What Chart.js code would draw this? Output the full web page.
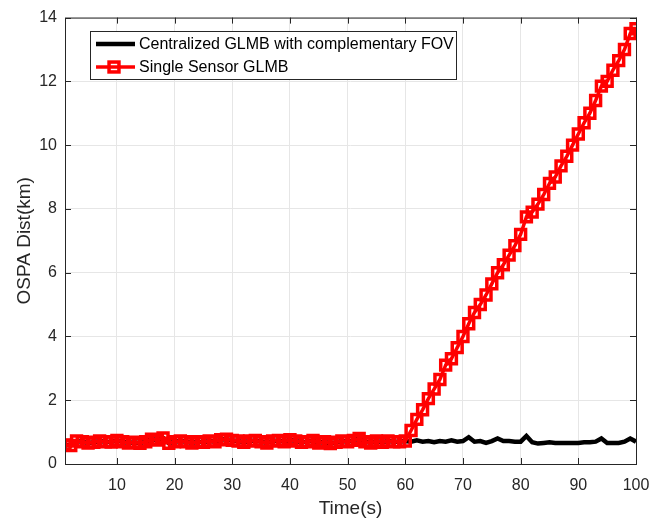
<!DOCTYPE html>
<html>
<head>
<meta charset="utf-8">
<script src="https://cdn.jsdelivr.net/npm/chart.js@4.4.0/dist/chart.umd.min.js"></script>
<style>
  html, body { margin: 0; padding: 0; background: #fff; }
  #wrap { width: 667px; height: 521px; }
</style>
</head>
<body>
<div id="wrap"><canvas id="c" width="667" height="521"></canvas></div>
<script>
// time steps 1..100
const times = [];
for (let t = 1; t <= 100; t++) times.push(t);

// single sensor GLMB (red)
const singleSensor = [
  0.60, 0.58, 0.72, 0.70, 0.66, 0.68, 0.72, 0.70, 0.69, 0.74,
  0.70, 0.66, 0.68, 0.65, 0.70, 0.78, 0.75, 0.82, 0.65, 0.70,
  0.72, 0.70, 0.66, 0.70, 0.68, 0.72, 0.70, 0.76, 0.78, 0.74,
  0.72, 0.68, 0.72, 0.74, 0.70, 0.66, 0.72, 0.74, 0.70, 0.76,
  0.72, 0.68, 0.70, 0.74, 0.66, 0.70, 0.64, 0.68, 0.72, 0.70,
  0.74, 0.80, 0.70, 0.66, 0.72, 0.68, 0.72, 0.70, 0.70, 0.72,
  1.05, 1.40, 1.70, 2.05, 2.35, 2.65, 3.10, 3.30, 3.65, 4.00,
  4.40, 4.75, 5.00, 5.30, 5.65, 6.00, 6.25, 6.55, 6.85, 7.20,
  7.75, 7.90, 8.15, 8.45, 8.80, 9.00, 9.35, 9.65, 10.00, 10.35,
  10.70, 11.00, 11.40, 11.85, 12.00, 12.35, 12.65, 13.00, 13.50, 13.65
];

// centralized GLMB with complementary FOV (black)
const centralized = [
  0.60, 0.58, 0.72, 0.70, 0.66, 0.68, 0.72, 0.70, 0.69, 0.74,
  0.70, 0.66, 0.68, 0.65, 0.70, 0.78, 0.75, 0.82, 0.65, 0.70,
  0.72, 0.70, 0.66, 0.70, 0.68, 0.72, 0.70, 0.76, 0.78, 0.74,
  0.72, 0.68, 0.72, 0.74, 0.70, 0.66, 0.72, 0.74, 0.70, 0.76,
  0.72, 0.68, 0.70, 0.74, 0.66, 0.70, 0.64, 0.68, 0.72, 0.70,
  0.74, 0.80, 0.70, 0.66, 0.72, 0.68, 0.72, 0.70, 0.70, 0.72,
  0.70, 0.74, 0.70, 0.72, 0.68, 0.72, 0.70, 0.74, 0.70, 0.72,
  0.84, 0.70, 0.72, 0.66, 0.72, 0.80, 0.72, 0.72, 0.70, 0.70,
  0.88, 0.68, 0.64, 0.66, 0.68, 0.66, 0.66, 0.66, 0.66, 0.66,
  0.68, 0.68, 0.70, 0.80, 0.66, 0.66, 0.66, 0.70, 0.80, 0.70
];

const xTicks = [10, 20, 30, 40, 50, 60, 70, 80, 90, 100];
const yTicks = [0, 2, 4, 6, 8, 10, 12, 14];

const FONT = 'Liberation Sans, Arial, sans-serif';
const TXT = '#262626';

// box, inward tick marks and legend in MATLAB style
const matlabBox = {
  id: 'matlabBox',
  afterDatasetsDraw(chart) {
    const { ctx, chartArea: a, scales } = chart;
    ctx.save();
    ctx.strokeStyle = '#262626';
    ctx.lineWidth = 1;
    ctx.strokeRect(a.left + 0.5, a.top + 0.5, a.right - a.left, a.bottom - a.top);
    ctx.beginPath();
    xTicks.forEach(v => {
      const px = Math.round(scales.x.getPixelForValue(v)) + 0.5;
      ctx.moveTo(px, a.bottom); ctx.lineTo(px, a.bottom - 6);
      ctx.moveTo(px, a.top); ctx.lineTo(px, a.top + 6);
    });
    yTicks.forEach(v => {
      const py = Math.round(scales.y.getPixelForValue(v)) + 0.5;
      ctx.moveTo(a.left, py); ctx.lineTo(a.left + 6, py);
      ctx.moveTo(a.right, py); ctx.lineTo(a.right - 6, py);
    });
    ctx.stroke();

    // legend
    const lx = 90, ly = 31, lw = 366, lh = 48;
    ctx.fillStyle = '#fff';
    ctx.fillRect(lx, ly, lw, lh);
    ctx.strokeStyle = '#262626';
    ctx.lineWidth = 1;
    ctx.strokeRect(lx + 0.5, ly + 0.5, lw, lh);
    ctx.font = '16px ' + FONT;
    ctx.textBaseline = 'middle';
    chart.data.datasets.forEach((ds, i) => {
      const yy = ly + 13 + i * 23;
      ctx.strokeStyle = ds.borderColor;
      ctx.lineWidth = ds.borderWidth;
      ctx.beginPath();
      ctx.moveTo(lx + 6, yy); ctx.lineTo(lx + 45, yy);
      ctx.stroke();
      if (ds.pointRadius > 0) {
        ctx.lineWidth = ds.pointBorderWidth;
        const r = ds.pointRadius * Math.SQRT1_2;
        ctx.strokeRect(lx + 24 - r, yy - r, r * 2, r * 2);
      }
      ctx.fillStyle = '#000';
      ctx.fillText(ds.label, lx + 49, yy + 1);
    });
    ctx.restore();
  }
};

new Chart(document.getElementById('c'), {
  type: 'line',
  data: {
    labels: times,
    datasets: [
      {
        label: 'Centralized GLMB with complementary FOV',
        data: centralized,
        borderColor: '#000000',
        borderWidth: 4.5,
        pointRadius: 0,
        tension: 0,
        order: 2
      },
      {
        label: 'Single Sensor GLMB',
        data: singleSensor,
        borderColor: '#ff0000',
        borderWidth: 3.5,
        pointStyle: 'rect',
        pointRadius: 7,
        pointBorderWidth: 3.5,
        pointBorderColor: '#ff0000',
        pointBackgroundColor: 'rgba(0,0,0,0)',
        tension: 0,
        order: 1
      }
    ]
  },
  options: {
    responsive: false,
    animation: false,
    layout: { padding: { left: 0, right: 31, top: 14, bottom: 0 } },
    plugins: { legend: { display: false }, tooltip: { enabled: false } },
    scales: {
      x: {
        type: 'linear',
        min: 1,
        max: 100,
        afterBuildTicks: s => { s.ticks = xTicks.map(v => ({ value: v })); },
        afterFit: s => { s.height = 57; },
        grid: { color: '#e6e6e6', drawTicks: false },
        border: { display: false },
        ticks: { color: TXT, font: { family: FONT, size: 16 }, padding: 12, maxRotation: 0 },
        title: { display: true, text: 'Time(s)', color: TXT, font: { family: FONT, size: 19 }, padding: 1 }
      },
      y: {
        min: 0,
        max: 14,
        afterBuildTicks: s => { s.ticks = yTicks.map(v => ({ value: v })); },
        afterFit: s => { s.width = 65; },
        grid: { color: '#e6e6e6', drawTicks: false },
        border: { display: false },
        ticks: { color: TXT, font: { family: FONT, size: 16 }, padding: 8 },
        title: { display: true, text: 'OSPA Dist(km)', color: TXT, font: { family: FONT, size: 19 }, padding: 13 }
      }
    }
  },
  plugins: [matlabBox]
});
</script>
</body>
</html>
